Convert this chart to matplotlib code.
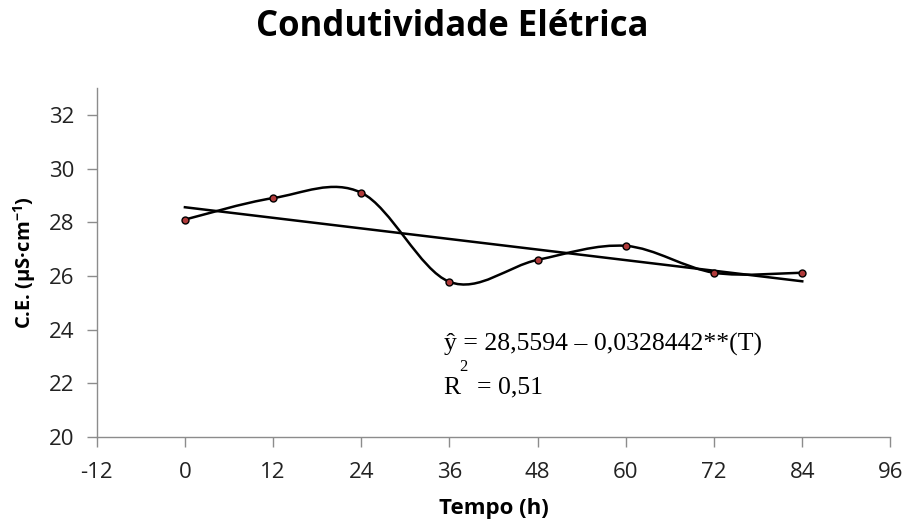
import numpy as np
import matplotlib
matplotlib.use("Agg")
import matplotlib.pyplot as plt
from matplotlib.path import Path
from matplotlib.patches import PathPatch

plt.rcParams["axes.unicode_minus"] = False
plt.rcParams["mathtext.fontset"] = "custom"
plt.rcParams["mathtext.bf"] = "Open Sans:bold"
plt.rcParams["mathtext.rm"] = "Open Sans"

# Data
tempo = [0, 12, 24, 36, 48, 60, 72, 84]
ce = [28.1, 28.9, 29.1, 25.78, 26.6, 27.12, 26.12, 26.12]
intercept = 28.5594
slope = -0.0328442
xticks = [-12, 0, 12, 24, 36, 48, 60, 72, 84, 96]
yticks = [20, 22, 24, 26, 28, 30, 32]

fig = plt.figure(figsize=(9.04, 5.24), dpi=100)
ax = fig.add_axes([0.107, 0.166, 0.878, 0.666])

# Excel-like smoothed line via cubic Bezier (Catmull-Rom)
pts = np.column_stack([tempo, ce]).astype(float)
verts = [tuple(pts[0])]
codes = [Path.MOVETO]
n = len(pts)
for i in range(n - 1):
    p0 = pts[i - 1] if i > 0 else pts[i]
    p1 = pts[i]
    p2 = pts[i + 1]
    p3 = pts[i + 2] if i + 2 < n else pts[i + 1]
    c1 = p1 + (p2 - p0) / 6.0
    c2 = p2 - (p3 - p1) / 6.0
    verts += [tuple(c1), tuple(c2), tuple(p2)]
    codes += [Path.CURVE4] * 3
ax.add_patch(PathPatch(Path(verts, codes), facecolor="none", edgecolor="black", lw=1.8, zorder=2))

# Linear trend
tx = np.array([tempo[0], tempo[-1]], dtype=float)
ax.plot(tx, intercept + slope * tx, color="black", lw=1.8, zorder=2)

ax.plot(tempo, ce, linestyle="none", marker="o", markersize=5,
        markerfacecolor="#b03a3a", markeredgecolor="black", markeredgewidth=1.0, zorder=3)

ax.set_xlim(-12, 96)
ax.set_ylim(20, 33)
ax.set_xticks(xticks)
ax.set_yticks(yticks)
for s in ["top", "right"]:
    ax.spines[s].set_visible(False)
for s in ["left", "bottom"]:
    ax.spines[s].set_color("#8c8c8c")
    ax.spines[s].set_linewidth(1.0)
ax.tick_params(axis="both", direction="out", color="#8c8c8c", length=7, width=1.0,
               labelsize=16, labelcolor="#222222")
ax.tick_params(axis="y", pad=9)
ax.tick_params(axis="x", pad=11)
for lab in ax.get_xticklabels() + ax.get_yticklabels():
    lab.set_family(["Open Sans", "DejaVu Sans"])

ax.set_xlabel("Tempo (h)", fontsize=16, fontweight="bold",
              family=["Open Sans", "DejaVu Sans"], labelpad=11)
ax.set_ylabel(r"C.E. (µS·cm$^{\mathbf{-1}}$)", fontsize=14.5, fontweight="bold",
              family=["Open Sans", "DejaVu Sans"], labelpad=8)

fig.text(0.5, 0.948, "Condutividade Elétrica", ha="center", va="center",
         fontsize=25, fontweight="bold", family=["Open Sans", "DejaVu Sans"])

serif = ["Liberation Serif", "DejaVu Serif"]
ax.text(35.2, 23.43, "ŷ = 28,5594 – 0,0328442**(T)", fontsize=18.5, family=serif,
        ha="left", va="center")
ax.text(35.2, 21.83, "R", fontsize=18.5, family=serif, ha="left", va="center")
ax.text(37.3, 22.6, "2", fontsize=12, family=serif, ha="left", va="center")
ax.text(39.8, 21.83, "= 0,51", fontsize=18.5, family=serif, ha="left", va="center")

fig.savefig("out.png", dpi=100)
